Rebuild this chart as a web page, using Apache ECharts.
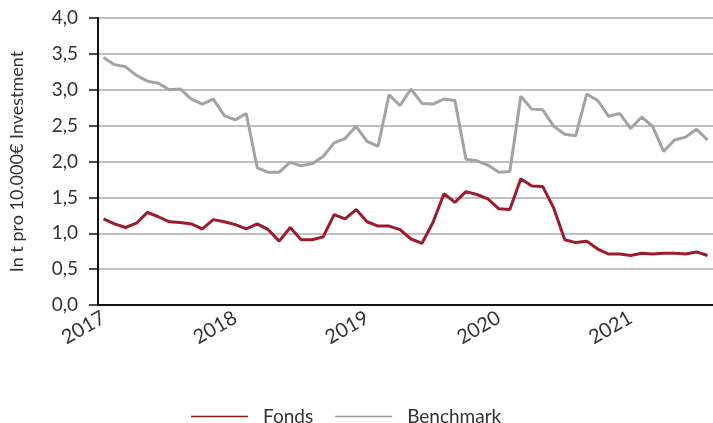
<!DOCTYPE html>
<html>
<head>
<meta charset="utf-8">
<script src="https://cdn.jsdelivr.net/npm/echarts@6/dist/echarts.min.js"></script>
<style>
  html,body{margin:0;padding:0;background:#fff;}
  #chart{width:713px;height:423px;}
</style>
</head>
<body>
<div id="chart"></div>
<script>
  // Monatswerte Jan 2017 - Aug 2021
  const months = [];
  for (let y = 2017; y <= 2021; y++) {
    for (let m = 1; m <= 12; m++) {
      if (y === 2021 && m > 8) break;
      months.push(y + '-' + String(m).padStart(2, '0'));
    }
  }

  const fonds = [
    1.20, 1.13, 1.08, 1.14, 1.29, 1.23, 1.16, 1.15, 1.13, 1.06, 1.19, 1.16,
    1.12, 1.06, 1.13, 1.05, 0.89, 1.08, 0.91, 0.91, 0.95, 1.26, 1.20, 1.33,
    1.16, 1.10, 1.10, 1.05, 0.92, 0.86, 1.15, 1.55, 1.43, 1.58, 1.54, 1.48,
    1.34, 1.33, 1.76, 1.66, 1.65, 1.35, 0.91, 0.87, 0.89, 0.78, 0.71, 0.71,
    0.69, 0.72, 0.71, 0.72, 0.72, 0.71, 0.74, 0.69
  ];

  const benchmark = [
    3.45, 3.35, 3.32, 3.20, 3.12, 3.09, 3.00, 3.01, 2.87, 2.80, 2.87, 2.64,
    2.58, 2.67, 1.91, 1.85, 1.85, 1.99, 1.94, 1.97, 2.07, 2.26, 2.32, 2.49,
    2.28, 2.21, 2.93, 2.78, 3.01, 2.81, 2.80, 2.87, 2.85, 2.03, 2.01, 1.95,
    1.85, 1.86, 2.91, 2.73, 2.72, 2.49, 2.38, 2.36, 2.94, 2.85, 2.63, 2.67,
    2.46, 2.62, 2.49, 2.14, 2.30, 2.34, 2.45, 2.30
  ];

  const FONT = 'Lato, "Open Sans", sans-serif';
  const RED = '#9b1c2e';
  const GREY = '#a3a3a3';

  const chart = echarts.init(document.getElementById('chart'), null, {renderer:'canvas'});
  chart.setOption({
    animation:false,
    grid:{left:97,right:-5,top:18,bottom:118,containLabel:false},
    legend:{
      left:186, top:402,
      icon:'rect', itemWidth:57, itemHeight:1.5, itemGap:22,
      textStyle:{fontFamily:FONT,fontSize:19,color:'#333',padding:[0,0,0,10]},
      data:[
        {name:'Fonds',itemStyle:{color:'#8e1a1a'}},
        {name:'Benchmark',itemStyle:{color:'#9a9a9a'}}
      ]
    },
    xAxis:{
      type:'category',
      data:months,
      boundaryGap:true,
      axisLine:{lineStyle:{color:'#111',width:2}},
      axisTick:{show:false},
      axisLabel:{
        interval:(i)=>i%12===0,
        formatter:(v)=>v.slice(0,4),
        rotate:30,
        margin:11,
        color:'#333',
        fontFamily:FONT,
        fontSize:20
      },
      splitLine:{show:false}
    },
    yAxis:{
      type:'value',
      min:0, max:4, interval:0.5,
      name:'In t pro 10.000€ Investment',
      nameLocation:'middle',
      nameGap:72,
      nameTextStyle:{fontFamily:FONT,fontSize:18,color:'#333'},
      axisLine:{show:true,lineStyle:{color:'#111',width:2}},
      axisTick:{show:true,length:9,lineStyle:{color:'#111',width:1.5}},
      axisLabel:{
        formatter:(v)=>v.toFixed(1).replace('.',','),
        margin:20,
        color:'#333',
        fontFamily:FONT,
        fontSize:19
      },
      splitLine:{lineStyle:{color:'#ababab',width:1.5}}
    },
    series:[
      {
        name:'Fonds', type:'line', data:fonds,
        showSymbol:false, symbol:'none',
        lineStyle:{color:RED,width:3}, itemStyle:{color:RED}, z:3
      },
      {
        name:'Benchmark', type:'line', data:benchmark,
        showSymbol:false, symbol:'none',
        lineStyle:{color:GREY,width:3}, itemStyle:{color:GREY}, z:2
      }
    ]
  });
</script>
</body>
</html>
